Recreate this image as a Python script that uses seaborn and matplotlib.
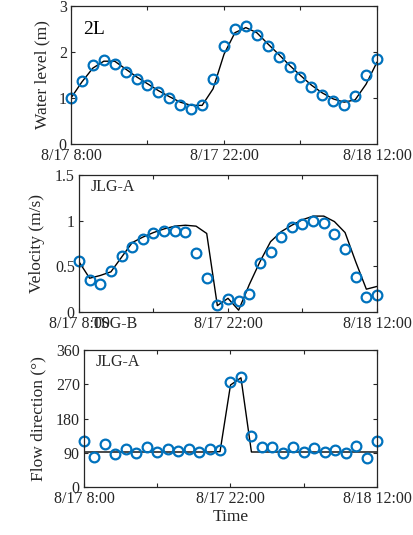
import numpy as np
import pandas as pd
import matplotlib
matplotlib.use('Agg')
import matplotlib.pyplot as plt
import seaborn as sns

sns.set_theme(style='ticks')
plt.rcParams['font.family'] = ['Liberation Serif', 'DejaVu Serif']

# ---- 数据（逐时，8/17 8:00 起 29 个点）----
hours = list(range(29))

level_obs = [1.00, 1.36, 1.72, 1.83, 1.75, 1.57, 1.41, 1.28, 1.12, 0.99,
             0.85, 0.76, 0.85, 1.41, 2.14, 2.49, 2.57, 2.38, 2.12, 1.90,
             1.68, 1.46, 1.25, 1.07, 0.93, 0.85, 1.04, 1.49, 1.85]
level_sim = [1.00, 1.35, 1.65, 1.80, 1.80, 1.63, 1.46, 1.31, 1.16, 1.03,
             0.91, 0.84, 0.84, 1.20, 1.95, 2.42, 2.53, 2.42, 2.18, 1.95,
             1.71, 1.49, 1.28, 1.11, 0.98, 0.91, 0.96, 1.30, 1.78]

vel_obs = [0.56, 0.35, 0.31, 0.45, 0.61, 0.71, 0.80, 0.86, 0.89, 0.89,
           0.88, 0.65, 0.37, 0.08, 0.14, 0.12, 0.20, 0.54, 0.66, 0.82,
           0.93, 0.96, 1.00, 0.97, 0.85, 0.69, 0.38, 0.16, 0.19]
vel_sim = [0.55, 0.37, 0.40, 0.44, 0.60, 0.76, 0.82, 0.87, 0.91, 0.94,
           0.95, 0.94, 0.86, 0.07, 0.15, 0.02, 0.30, 0.55, 0.77, 0.88,
           0.95, 1.01, 1.05, 1.05, 0.99, 0.87, 0.55, 0.25, 0.28]

dir_obs = [120, 79, 112, 86, 99, 90, 105, 92, 101, 94,
           101, 92, 99, 97, 275, 290, 134, 104, 104, 90,
           104, 92, 103, 92, 98, 90, 107, 76, 120]
dir_sim = [92, 92, 92, 92, 92, 92, 92, 92, 92, 92,
           92, 92, 92, 93, 268, 287, 92, 92, 92, 92,
           92, 92, 92, 92, 92, 92, 92, 92, 92]

xticks = [0, 7, 14, 21, 28]
xticklabels = ['8/17 8:00', '', '8/17 22:00', '', '8/18 12:00']

BLUE = '#0072BD'
GRAY = '#262626'

fig = plt.figure(figsize=(4.14, 5.35), dpi=100)
ax1 = fig.add_axes([0.1715, 0.7308, 0.9106 - 0.1715, 0.258])
ax2 = fig.add_axes([0.1908, 0.4168, 0.9106 - 0.1908, 0.2561])
ax3 = fig.add_axes([0.2029, 0.0897, 0.9106 - 0.2029, 0.2561])


def draw(ax, obs, sim, ylim, yticks, yticklabels, ylabel, lpad):
    df = pd.DataFrame({'t': hours, 'obs': obs, 'sim': sim})
    sns.lineplot(data=df, x='t', y='sim', color='black', linewidth=1.0, ax=ax)
    sns.lineplot(data=df, x='t', y='obs', linestyle='', marker='o',
                 markersize=7, markerfacecolor='none', markeredgecolor=BLUE,
                 markeredgewidth=1.6, clip_on=False, ax=ax)
    ax.set_xlim(0, 28)
    ax.set_ylim(*ylim)
    ax.set_xticks(xticks)
    ax.set_xticklabels(xticklabels)
    ax.set_yticks(yticks)
    ax.set_yticklabels(yticklabels)
    ax.set_xlabel('')
    ax.set_ylabel(ylabel, fontsize=12.5, color=GRAY, labelpad=lpad)
    ax.tick_params(direction='in', top=True, right=True, length=3,
                   width=0.8, labelsize=11.5, colors=GRAY, pad=3)
    for s in ax.spines.values():
        s.set_visible(True)
        s.set_color(GRAY)
        s.set_linewidth(0.9)


draw(ax1, level_obs, level_sim, (0, 3), [0, 1, 2, 3], ['0', '1', '2', '3'],
     'Water level (m)', 6)
ax1.text(0.04, 0.89, '2L', transform=ax1.transAxes, fontsize=14,
         va='top', ha='left', color='black')

draw(ax2, vel_obs, vel_sim, (0, 1.5), [0, 0.5, 1, 1.5],
     ['0', '0.5', '1', '1.5'], 'Velocity (m/s)', 7)
ax2.text(0.04, 0.97, 'JLG-A', transform=ax2.transAxes, fontsize=11.5,
         va='top', ha='left', color=GRAY)
# 重叠的站点标签（原图如此）
ax2.annotate('TSG-B', xy=(0, 0), xycoords='axes fraction',
             xytext=(9.5, -3), textcoords='offset points',
             fontsize=11.5, color=GRAY, va='top', ha='left')

draw(ax3, dir_obs, dir_sim, (0, 360), [0, 90, 180, 270, 360],
     ['0', '90', '180', '270', '360'], 'Flow direction (°)', 7)
ax3.text(0.04, 0.97, 'JLG-A', transform=ax3.transAxes, fontsize=11.5,
         va='top', ha='left', color=GRAY)
ax3.set_xlabel('Time', fontsize=12.5, color=GRAY, labelpad=1)

fig.savefig('out.png', dpi=100)
